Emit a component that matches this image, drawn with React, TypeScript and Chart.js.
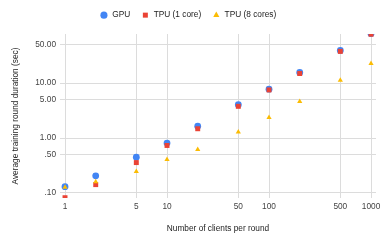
import React, { useEffect, useRef } from "react";
import { Chart, registerables } from "chart.js";

Chart.register(...registerables);

const CLIENTS = [1, 2, 5, 10, 20, 50, 100, 200, 500, 1000];
const GPU = [0.13, 0.205, 0.448, 0.81, 1.65, 4.07, 7.77, 15.7, 39.6, 80];
const TPU_1 = [0.082, 0.142, 0.358, 0.734, 1.48, 3.79, 7.54, 15.0, 38.0, 78];
const TPU_8 = [0.127, 0.161, 0.245, 0.407, 0.62, 1.29, 2.36, 4.62, 11.35, 22.9];

const SERIES_NAMES = ["GPU", "TPU (1 core)", "TPU (8 cores)"];

const X_TICKS = [1, 5, 10, 50, 100, 500, 1000];
const X_TICK_LABELS = ["1", "5", "10", "50", "100", "500", "1000"];
const Y_TICKS = [0.1, 0.5, 1, 5, 10, 50];
const Y_TICK_LABELS = [".10", ".50", "1.00", "5.00", "10.00", "50.00"];

const X_TITLE = "Number of clients per round";
const Y_TITLE = "Average training round duration (sec)";

const FONT = "'Liberation Sans', Arial, sans-serif";
const FS = 8.3;

const legendSpacer = {
  id: "legendSpacer",
  beforeLayout(chart: any) {
    const lg = chart.legend;
    if (lg && !lg._spacerPatched) {
      const orig = lg.fit.bind(lg);
      lg.fit = () => {
        orig();
        lg.height += 4.7;
      };
      lg._spacerPatched = true;
    }
  },
};

export default function App() {
  const ref = useRef<HTMLCanvasElement | null>(null);

  useEffect(() => {
    if (!ref.current) return;
    const mk = (vals: number[]) => CLIENTS.map((c, i) => ({ x: c, y: vals[i] }));
    const chart = new Chart(ref.current, {
      type: "scatter",
      data: {
        datasets: [
          {
            label: SERIES_NAMES[0],
            data: mk(GPU),
            backgroundColor: "#4285F4",
            borderColor: "#4285F4",
            borderWidth: 0,
            pointStyle: "circle",
            pointRadius: 3.4,
            order: 3,
            clip: 0,
          },
          {
            label: SERIES_NAMES[1],
            data: mk(TPU_1),
            backgroundColor: "#EA4335",
            borderColor: "#EA4335",
            borderWidth: 0,
            pointStyle: "rect",
            pointRadius: 3.5,
            order: 2,
            clip: 0,
          },
          {
            label: SERIES_NAMES[2],
            data: mk(TPU_8),
            backgroundColor: "#FBBC04",
            borderColor: "#FBBC04",
            borderWidth: 0,
            pointStyle: "triangle",
            pointRadius: 3,
            order: 1,
            clip: 0,
          },
        ],
      },
      options: {
        responsive: false,
        animation: false,
        devicePixelRatio: 1,
        layout: { padding: { left: 0, right: 12, top: 0, bottom: 0 } },
        plugins: {
          tooltip: { enabled: false },
          legend: {
            position: "top",
            align: "center",
            labels: {
              usePointStyle: true,
              boxWidth: 10,
              boxHeight: 5,
              padding: 11,
              color: "#222",
              font: { family: FONT, size: FS },
              sort: (a: any, b: any) => a.datasetIndex - b.datasetIndex,
            },
          },
        },
        scales: {
          x: {
            type: "logarithmic",
            min: 0.893,
            max: 1119,
            afterFit: (s: any) => {
              s.height = 49;
            },
            afterBuildTicks: (s: any) => {
              s.ticks = X_TICKS.map((v) => ({ value: v }));
            },
            ticks: {
              autoSkip: false,
              maxRotation: 0,
              padding: 4,
              color: "#444",
              font: { family: FONT, size: FS },
              callback: (_v: any, i: number) => X_TICK_LABELS[i],
            },
            grid: { color: "#dcdcdc", lineWidth: 1, drawTicks: false },
            border: { display: false },
            title: {
              display: true,
              text: X_TITLE,
              color: "#222",
              font: { family: FONT, size: FS },
              padding: { top: 0, bottom: 13 },
            },
          },
          y: {
            type: "logarithmic",
            min: 0.081,
            max: 78.8,
            afterFit: (s: any) => {
              s.width = 60;
            },
            afterBuildTicks: (s: any) => {
              s.ticks = Y_TICKS.map((v) => ({ value: v }));
            },
            ticks: {
              autoSkip: false,
              padding: 4,
              color: "#444",
              font: { family: FONT, size: FS },
              callback: (_v: any, i: number) => Y_TICK_LABELS[i],
            },
            grid: { color: "#dcdcdc", lineWidth: 1, drawTicks: false },
            border: { display: false },
            title: {
              display: true,
              text: Y_TITLE,
              color: "#222",
              font: { family: FONT, size: FS },
              padding: { top: 11, bottom: 0 },
            },
          },
        },
      },
      plugins: [legendSpacer],
    } as any);
    return () => chart.destroy();
  }, []);

  return (
    <div style={{ position: "absolute", left: 0, top: 0, width: 388, height: 247, background: "#fff" }}>
      <canvas ref={ref} width={388} height={247} style={{ width: 388, height: 247, display: "block" }} />
    </div>
  );
}
